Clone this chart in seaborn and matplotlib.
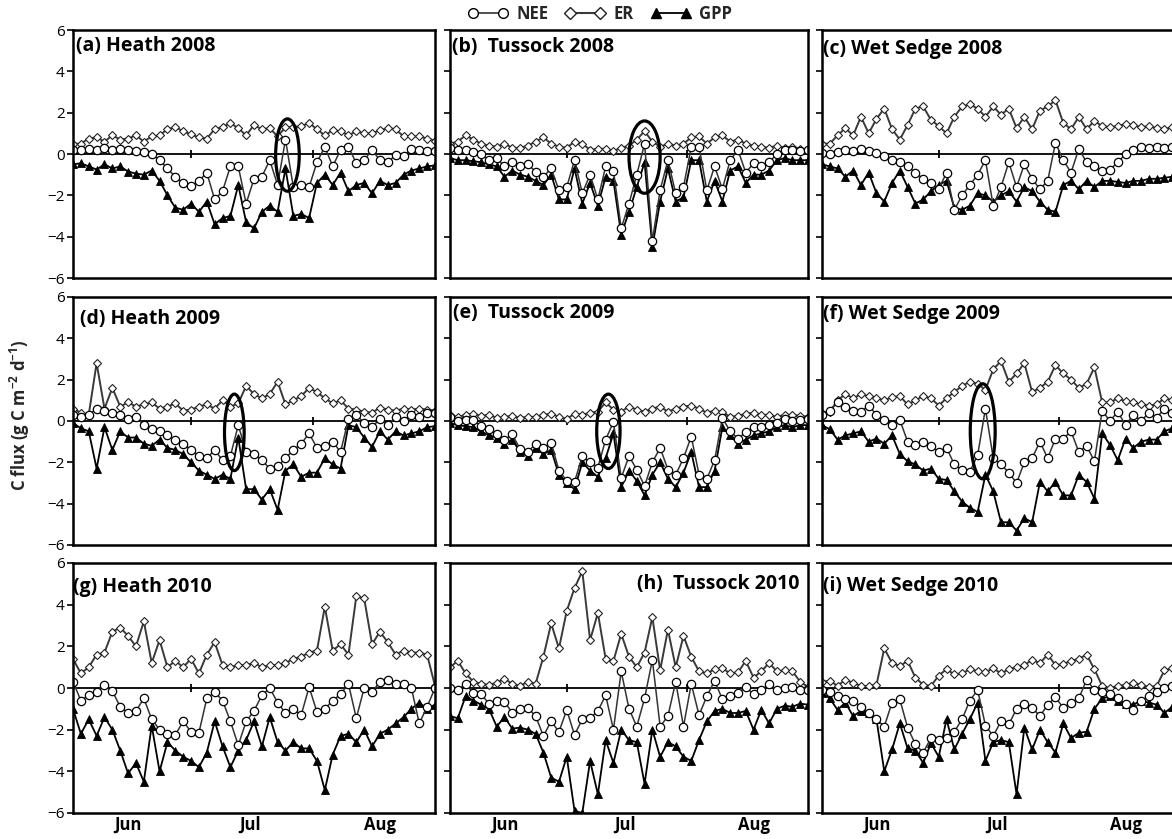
import seaborn as sns
import matplotlib.pyplot as plt
from matplotlib.lines import Line2D
from matplotlib.patches import Ellipse

# days counted from 1 June, one value every second day
days = list(range(0, 93, 2))
month_starts = [30, 61]
month_labels = ["Jun", "Jul", "Aug"]
month_label_pos = [14, 45, 78]

# (a) Heath 2008
nee_heath_2008 = [0.2, 0.2, 0.25, 0.2, 0.3, 0.2, 0.25, 0.2, 0.15, 0.1,
                  0.0, -0.3, -0.7, -1.1, -1.4, -1.55, -1.3, -0.9, -2.2, -1.8,
                  -0.6, -0.6, -2.4, -1.2, -1.1, -0.3, -1.5, 0.7, -1.6, -1.5,
                  -1.6, -0.4, 0.35, -0.6, 0.2, 0.35, -0.45, -0.3, 0.2, -0.3,
                  -0.4, -0.05, -0.1, 0.25, 0.2, 0.15, 0.15]
er_heath_2008 = [0.5, 0.5, 0.75, 0.8, 0.6, 0.9, 0.7, 0.75, 0.9, 0.6,
                 0.85, 0.9, 1.2, 1.3, 1.1, 0.95, 0.8, 0.75, 1.2, 1.3,
                 1.5, 1.25, 0.9, 1.4, 1.2, 1.25, 0.85, 1.3, 1.3, 1.35,
                 1.5, 1.2, 0.9, 1.15, 1.1, 0.9, 1.1, 1.0, 1.0, 1.15,
                 1.25, 1.2, 0.85, 0.85, 0.85, 0.75, 0.65]
gpp_heath_2008 = [-0.5, -0.45, -0.6, -0.75, -0.5, -0.7, -0.6, -0.85, -0.95, -1.0,
                  -0.8, -1.3, -2.0, -2.6, -2.7, -2.4, -2.8, -2.3, -3.4, -3.1,
                  -3.0, -1.5, -3.3, -3.6, -2.8, -2.5, -2.8, -0.7, -3.0, -2.9,
                  -3.1, -1.4, -1.0, -1.5, -0.9, -1.8, -1.5, -1.4, -1.9, -1.3,
                  -1.5, -1.4, -1.0, -0.8, -0.7, -0.6, -0.55]

# (b) Tussock 2008
nee_tussock_2008 = [0.3, 0.2, 0.2, 0.1, 0.0, -0.3, -0.2, -0.6, -0.4, -0.6,
                    -0.5, -0.85, -1.1, -0.7, -1.75, -1.6, -0.3, -1.9, -1.0, -2.2,
                    -0.6, -0.8, -3.6, -2.4, -1.0, 0.5, -4.2, -1.75, -0.3, -1.9,
                    -1.6, 0.35, 0.35, -1.75, -0.6, -1.7, -0.3, 0.2, -0.9, -0.45,
                    -0.6, -0.4, 0.0, 0.2, 0.2, 0.15, 0.2]
er_tussock_2008 = [0.5, 0.6, 0.9, 0.7, 0.5, 0.4, 0.35, 0.5, 0.3, 0.3,
                   0.4, 0.6, 0.8, 0.5, 0.35, 0.3, 0.6, 0.5, 0.2, 0.25,
                   0.25, 0.15, 0.3, 0.4, 0.7, 1.1, 0.6, 0.35, 0.5, 0.4,
                   0.5, 0.8, 0.85, 0.5, 0.8, 0.9, 0.6, 0.7, 0.5, 0.4,
                   0.35, 0.3, 0.4, 0.3, 0.35, 0.25, 0.2]
gpp_tussock_2008 = [-0.2, -0.3, -0.3, -0.35, -0.4, -0.5, -0.6, -1.1, -0.8, -1.0,
                    -1.1, -1.3, -1.5, -1.0, -2.2, -2.2, -0.7, -2.4, -1.4, -2.5,
                    -1.1, -1.3, -3.9, -2.8, -1.6, -0.4, -4.5, -2.3, -0.7, -2.3,
                    -2.1, -0.3, -0.3, -2.3, -1.3, -2.3, -0.8, -0.6, -1.4, -1.0,
                    -1.0, -0.8, -0.3, -0.2, -0.3, -0.3, -0.3]

# (c) Wet Sedge 2008
nee_wetsedge_2008 = [0.05, 0.0, 0.1, 0.2, 0.15, 0.25, 0.15, 0.05, -0.1, -0.3,
                     -0.4, -0.6, -0.9, -1.2, -1.4, -1.7, -0.9, -2.7, -2.0, -1.5,
                     -1.0, -0.3, -2.5, -1.6, -0.4, -1.6, -0.5, -1.2, -1.7, -1.3,
                     0.55, -0.3, -0.9, 0.25, -0.4, -0.6, -0.8, -0.75, -0.4, 0.0,
                     0.2, 0.35, 0.3, 0.35, 0.3, 0.35, 0.35]
er_wetsedge_2008 = [0.5, 0.5, 0.9, 1.25, 0.9, 1.8, 1.0, 1.7, 2.2, 1.2,
                    0.7, 1.4, 2.2, 2.3, 1.65, 1.35, 1.0, 1.8, 2.3, 2.4,
                    2.2, 1.8, 2.3, 1.9, 2.2, 1.25, 1.8, 1.2, 2.1, 2.3,
                    2.6, 1.5, 1.2, 1.8, 1.2, 1.6, 1.35, 1.3, 1.35, 1.45,
                    1.4, 1.3, 1.35, 1.25, 1.2, 1.3, 1.2]
gpp_wetsedge_2008 = [-0.5, -0.6, -0.7, -1.1, -0.8, -1.5, -0.9, -1.9, -2.3, -1.4,
                     -0.8, -1.6, -2.4, -2.2, -1.8, -1.5, -1.3, -2.6, -2.7, -2.5,
                     -1.9, -2.0, -2.3, -2.0, -1.8, -2.3, -1.6, -1.8, -2.3, -2.7,
                     -2.8, -1.5, -1.3, -1.7, -1.3, -1.6, -1.3, -1.3, -1.35, -1.4,
                     -1.3, -1.3, -1.2, -1.2, -1.15, -1.1, -1.1]

# (d) Heath 2009
nee_heath_2009 = [0.3, 0.2, 0.3, 0.6, 0.5, 0.4, 0.3, 0.1, 0.2, -0.2,
                  -0.4, -0.5, -0.7, -0.9, -1.1, -1.4, -1.7, -1.8, -1.4, -1.9,
                  -1.7, -0.2, -1.5, -1.6, -1.9, -2.3, -2.2, -1.8, -1.4, -1.1,
                  -0.6, -1.3, -1.2, -1.0, -1.5, 0.1, 0.3, -0.1, -0.3, 0.1,
                  -0.2, 0.2, 0.0, 0.3, 0.2, 0.4, 0.4]
er_heath_2009 = [0.6, 0.4, 0.3, 2.8, 0.6, 1.6, 0.7, 0.9, 0.7, 0.8,
                 0.9, 0.6, 0.7, 0.85, 0.5, 0.55, 0.7, 0.8, 0.6, 1.0,
                 0.7, 0.85, 1.7, 1.3, 1.1, 1.3, 1.9, 0.8, 1.0, 1.2,
                 1.6, 1.4, 1.1, 0.85, 1.0, 0.6, 0.55, 0.45, 0.4, 0.65,
                 0.55, 0.5, 0.6, 0.55, 0.6, 0.55, 0.5]
gpp_heath_2009 = [-0.1, -0.35, -0.5, -2.3, -0.3, -1.4, -0.5, -0.8, -0.8, -1.1,
                  -1.2, -0.9, -1.3, -1.4, -1.6, -2.0, -2.4, -2.6, -2.8, -2.6,
                  -2.8, -0.8, -3.3, -3.3, -3.8, -3.3, -4.3, -2.4, -2.1, -2.7,
                  -2.5, -2.5, -1.8, -2.1, -2.3, -0.2, -0.3, -0.8, -1.25, -0.5,
                  -0.9, -0.5, -0.7, -0.6, -0.5, -0.3, -0.25]

# (e) Tussock 2009
nee_tussock_2009 = [0.2, 0.0, 0.05, 0.05, -0.25, -0.4, -0.65, -0.9, -0.65, -1.35,
                    -1.5, -1.1, -1.3, -1.05, -2.4, -2.9, -2.95, -1.7, -2.0, -2.25,
                    -0.9, -0.05, -2.75, -1.7, -2.35, -3.15, -2.0, -1.3, -2.35, -2.6,
                    -1.8, -0.75, -2.6, -2.8, -1.9, 0.15, -0.5, -0.85, -0.55, -0.3,
                    -0.3, -0.2, -0.1, 0.1, 0.0, 0.05, 0.1]
er_tussock_2009 = [0.3, 0.2, 0.3, 0.35, 0.25, 0.3, 0.15, 0.2, 0.25, 0.15,
                   0.2, 0.2, 0.3, 0.35, 0.2, 0.1, 0.35, 0.3, 0.4, 0.45,
                   0.9, 0.55, 0.45, 0.7, 0.55, 0.45, 0.6, 0.7, 0.45, 0.6,
                   0.7, 0.75, 0.6, 0.4, 0.5, 0.45, 0.2, 0.25, 0.35, 0.4,
                   0.3, 0.3, 0.2, 0.3, 0.3, 0.25, 0.2]
gpp_tussock_2009 = [-0.1, -0.2, -0.25, -0.3, -0.5, -0.7, -0.8, -1.1, -0.9, -1.5,
                    -1.7, -1.3, -1.6, -1.4, -2.6, -3.0, -3.3, -2.0, -2.4, -2.7,
                    -1.8, -0.6, -3.2, -2.4, -2.9, -3.6, -2.6, -2.0, -2.8, -3.2,
                    -2.5, -1.5, -3.2, -3.2, -2.4, -0.3, -0.7, -1.1, -0.9, -0.7,
                    -0.6, -0.5, -0.3, -0.2, -0.3, -0.2, -0.2]

# (f) Wet Sedge 2009
nee_wetsedge_2009 = [0.3, 0.5, 0.9, 0.7, 0.5, 0.45, 0.75, 0.3, 0.05, -0.2,
                     0.05, -1.0, -1.15, -1.0, -1.2, -1.5, -1.3, -2.1, -2.35, -2.45,
                     -1.65, 0.6, -1.8, -2.1, -2.5, -3.0, -2.0, -1.8, -1.0, -1.8,
                     -0.85, -0.85, -0.5, -1.5, -1.2, -1.95, 0.5, 0.0, 0.45, -0.2,
                     0.3, 0.0, 0.4, 0.15, 0.6, 0.4, 0.4]
er_wetsedge_2009 = [0.4, 0.45, 1.0, 1.3, 1.1, 1.3, 1.2, 1.1, 1.0, 1.15,
                    1.2, 0.8, 1.0, 1.2, 1.1, 0.75, 1.1, 1.4, 1.7, 1.9,
                    1.8, 1.5, 2.5, 2.9, 1.9, 2.3, 2.8, 1.4, 1.6, 1.9,
                    2.7, 2.3, 2.0, 1.6, 1.8, 2.6, 0.9, 0.9, 1.1, 0.95,
                    0.9, 0.8, 0.75, 0.8, 1.1, 1.0, 1.0]
gpp_wetsedge_2009 = [-0.2, -0.4, -0.9, -0.7, -0.6, -0.5, -1.0, -0.85, -1.1, -0.7,
                     -1.6, -1.95, -2.1, -2.4, -2.3, -2.8, -2.85, -3.4, -3.9, -4.2,
                     -4.4, -2.6, -3.4, -4.9, -4.9, -5.3, -4.7, -4.9, -2.95, -3.4,
                     -2.95, -3.6, -3.6, -2.6, -2.95, -3.75, -0.6, -1.15, -1.9, -0.85,
                     -1.3, -1.0, -0.9, -0.9, -0.5, -0.35, -0.4]

# (g) Heath 2010
nee_heath_2010 = [0.3, -0.6, -0.35, -0.2, 0.15, -0.15, -0.9, -1.2, -1.1, -0.5,
                  -1.5, -2.0, -2.2, -2.25, -1.6, -2.1, -2.15, -0.5, -0.2, -0.6,
                  -1.6, -2.75, -1.6, -1.1, -0.35, 0.0, -0.7, -1.2, -1.0, -1.3,
                  0.05, -1.15, -1.0, -0.6, -0.3, 0.2, -1.45, 0.0, -0.2, 0.3,
                  0.4, 0.2, 0.2, 0.0, -1.7, -0.9, 0.0]
er_heath_2010 = [1.4, 0.7, 1.0, 1.6, 1.7, 2.7, 2.9, 2.5, 2.0, 3.2,
                 1.2, 2.3, 1.0, 1.3, 1.0, 1.4, 0.7, 1.6, 2.2, 1.1,
                 1.0, 1.1, 1.1, 1.2, 1.0, 1.1, 1.1, 1.2, 1.4, 1.5,
                 1.7, 1.8, 3.9, 1.8, 2.1, 1.6, 4.4, 4.3, 2.1, 2.7,
                 2.2, 1.6, 1.8, 1.7, 1.7, 1.6, 0.1]
gpp_heath_2010 = [-1.0, -2.2, -1.5, -2.3, -1.4, -2.0, -3.0, -4.1, -3.6, -4.5,
                  -1.8, -4.0, -2.6, -3.0, -3.3, -3.5, -3.8, -3.1, -1.6, -2.8,
                  -3.8, -3.0, -2.5, -1.6, -2.8, -1.4, -2.6, -3.0, -2.6, -2.9,
                  -2.9, -3.5, -4.9, -3.2, -2.3, -2.2, -2.6, -2.0, -2.8, -2.2,
                  -2.0, -1.7, -1.4, -1.0, -0.7, -1.0, -0.8]

# (h) Tussock 2010
nee_tussock_2010 = [0.0, -0.1, 0.2, -0.25, -0.3, -0.75, -0.6, -0.65, -1.2, -1.0,
                    -0.95, -1.35, -2.3, -1.6, -2.1, -1.05, -2.25, -1.5, -1.45, -1.1,
                    -0.35, -2.0, 0.8, -1.0, -1.85, -0.5, 1.35, -1.85, -1.35, 0.3,
                    -1.85, 0.2, -1.3, -0.4, 0.35, -0.55, -0.4, -0.25, 0.05, -0.3,
                    -0.1, 0.2, -0.1, 0.0, 0.05, -0.1, -0.1]
er_tussock_2010 = [1.0, 1.3, 0.7, 0.3, 0.2, 0.15, 0.25, 0.45, 0.2, 0.1,
                   0.3, 0.2, 1.5, 3.1, 1.9, 3.7, 4.8, 5.6, 2.3, 3.6,
                   1.4, 1.3, 2.6, 1.5, 1.0, 1.7, 3.4, 0.85, 2.8, 1.0,
                   2.5, 1.5, 0.8, 0.7, 0.9, 0.95, 0.7, 0.75, 1.3, 0.5,
                   0.8, 1.2, 0.8, 0.85, 0.8, 0.3, 0.05]
gpp_tussock_2010 = [-1.35, -1.45, -0.4, -0.6, -0.8, -1.0, -1.85, -1.4, -1.95, -1.9,
                    -2.0, -2.2, -3.1, -4.3, -4.5, -3.3, -5.9, -6.0, -3.5, -5.1,
                    -2.5, -3.6, -2.0, -2.5, -2.6, -4.6, -2.0, -3.3, -2.6, -2.8,
                    -3.3, -3.5, -2.5, -1.6, -1.1, -1.0, -1.2, -1.2, -1.1, -2.0,
                    -1.05, -1.7, -1.0, -0.85, -0.9, -0.75, -0.8]

# (i) Wet Sedge 2010
nee_wetsedge_2010 = [-0.1, -0.2, -0.4, -0.55, -0.6, -0.9, -1.2, -1.5, -1.85, -0.7,
                     -0.55, -1.9, -2.7, -3.1, -2.4, -2.5, -2.4, -2.1, -1.5, -0.6,
                     -0.1, -1.8, -2.3, -1.6, -1.75, -1.0, -0.75, -0.95, -1.35, -0.8,
                     -0.45, -0.95, -0.7, -0.5, 0.4, -0.1, -0.2, -0.3, -0.5, -0.75,
                     -1.05, -0.6, -0.4, -0.2, 0.0, 0.1, 0.1]
er_wetsedge_2010 = [0.3, 0.35, 0.1, 0.4, 0.25, 0.1, 0.1, 0.15, 1.9, 1.2,
                    1.05, 1.3, 0.5, 0.15, 0.1, 0.6, 0.9, 0.65, 0.7, 0.9,
                    0.8, 0.75, 0.95, 0.7, 0.9, 1.0, 1.1, 1.35, 1.2, 1.6,
                    1.1, 1.15, 1.3, 1.4, 1.6, 0.9, 0.1, 0.0, 0.1, 0.15,
                    0.25, 0.15, 0.05, 0.1, 0.85, 0.95, 1.0]
gpp_wetsedge_2010 = [-0.25, -0.5, -1.05, -0.7, -1.35, -1.1, -1.2, -1.5, -4.0, -2.95,
                     -1.7, -2.9, -3.0, -3.6, -2.65, -3.3, -1.5, -2.95, -2.2, -1.5,
                     -0.7, -3.5, -2.6, -2.5, -2.6, -5.1, -1.9, -2.95, -2.0, -2.6,
                     -3.1, -1.7, -2.4, -2.15, -2.1, -1.0, -0.5, -0.4, -0.6, -0.75,
                     -0.8, -0.6, -0.7, -0.8, -1.2, -0.9, -0.8]

panels = [
    ("(a) Heath 2008", nee_heath_2008, er_heath_2008, gpp_heath_2008),
    ("(b)  Tussock 2008", nee_tussock_2008, er_tussock_2008, gpp_tussock_2008),
    ("(c) Wet Sedge 2008", nee_wetsedge_2008, er_wetsedge_2008, gpp_wetsedge_2008),
    ("(d) Heath 2009", nee_heath_2009, er_heath_2009, gpp_heath_2009),
    ("(e)  Tussock 2009", nee_tussock_2009, er_tussock_2009, gpp_tussock_2009),
    ("(f) Wet Sedge 2009", nee_wetsedge_2009, er_wetsedge_2009, gpp_wetsedge_2009),
    ("(g) Heath 2010", nee_heath_2010, er_heath_2010, gpp_heath_2010),
    ("(h)  Tussock 2010", nee_tussock_2010, er_tussock_2010, gpp_tussock_2010),
    ("(i) Wet Sedge 2010", nee_wetsedge_2010, er_wetsedge_2010, gpp_wetsedge_2010),
]

# circled days: panel index -> (day, flux, width in days, height in flux)
circled = {
    0: (54.5, -0.05, 6.0, 3.5),
    1: (50.0, -0.15, 8.0, 3.5),
    3: (41.0, -0.55, 5.0, 3.7),
    4: (40.7, -0.5, 6.0, 3.6),
    5: (41.3, -0.5, 6.4, 4.6),
}

# title placement in axes fraction (x, y, ha)
title_pos = [
    (0.008, 0.975, "left"), (0.005, 0.97, "left"), (0.004, 0.965, "left"),
    (0.02, 0.95, "left"), (0.008, 0.975, "left"), (0.004, 0.97, "left"),
    (0.0, 0.945, "left"), (0.975, 0.955, "right"), (0.004, 0.95, "left"),
]

sns.set_theme(style="white")
plt.rcParams["font.family"] = ["Open Sans", "DejaVu Sans"]
plt.rcParams["mathtext.fontset"] = "custom"
plt.rcParams["mathtext.rm"] = "Open Sans"
plt.rcParams["mathtext.bf"] = "Open Sans:bold"

W, H = 1172, 839
fig = plt.figure(figsize=(W / 100, H / 100), dpi=100)

col_left = [73, 450, 822]
col_width = [362, 358, 358]
row_top = [30, 297, 563]
row_height = [248, 248, 250]

for i, (title, nee, er, gpp) in enumerate(panels):
    r, c = divmod(i, 3)
    ax = fig.add_axes([col_left[c] / W, 1 - (row_top[r] + row_height[r]) / H,
                       col_width[c] / W, row_height[r] / H])

    ax.axhline(0, color="black", lw=1.3, zorder=1)
    ax.vlines(month_starts, -0.18, 0.18, color="black", lw=1.3, zorder=1)

    sns.lineplot(x=days[:len(gpp)], y=gpp, ax=ax, color="black", lw=1.3,
                 marker="^", markersize=5.5, mfc="black", mec="black", mew=0.6)
    sns.lineplot(x=days[:len(er)], y=er, ax=ax, color="#3a3a3a", lw=1.4,
                 marker="D", markersize=4.2, mfc="white", mec="#222222", mew=0.8)
    sns.lineplot(x=days[:len(nee)], y=nee, ax=ax, color="#333333", lw=1.1,
                 marker="o", markersize=6, mfc="white", mec="black", mew=0.9)

    if i in circled:
        x0, y0, w, h = circled[i]
        ax.add_patch(Ellipse((x0, y0), w, h, fill=False, ec="black", lw=2.3, zorder=6))

    ax.set_xlim(0, 92)
    ax.set_ylim(-6, 6)
    ax.set_yticks(range(-6, 7, 2))
    ax.set_xlabel("")
    ax.set_ylabel("")
    if r == 2:
        ax.set_xticks(month_label_pos, month_labels, fontweight="bold", fontsize=12)
    else:
        ax.set_xticks(month_label_pos, [])
    ax.tick_params(axis="x", length=0, pad=2, colors="black")
    ax.tick_params(axis="y", direction="out", length=4, width=1.2, left=True,
                   labelleft=(c == 0), labelsize=11, pad=2, colors="black")
    for s in ax.spines.values():
        s.set_color("black")
        s.set_linewidth(1.8)

    tx, ty, ha = title_pos[i]
    ax.text(tx, ty, title, transform=ax.transAxes, ha=ha, va="top",
            fontsize=14, fontweight="bold", color="black")

fig.text(0.017, 0.505, r"C flux (g C m$^{\mathbf{-2}}$ d$^{\mathbf{-1}}$)", rotation=90,
         ha="center", va="center", fontsize=12, fontweight="bold")

handles = [
    Line2D([0], [0], color="#333333", lw=1.2, marker="o", ms=7, mfc="white", mec="black"),
    Line2D([0], [0], color="#3a3a3a", lw=1.5, marker="D", ms=6.5, mfc="white", mec="#222222"),
    Line2D([0], [0], color="black", lw=1.3, marker="^", ms=7, mfc="black", mec="black"),
]
fig.legend(handles, ["NEE", "ER", "GPP"], loc="center", bbox_to_anchor=(0.512, 0.983),
           ncol=3, frameon=False, numpoints=2, handlelength=2.4, handletextpad=0.5,
           columnspacing=1.0, prop={"weight": "bold", "size": 12})

plt.savefig("out.png", dpi=100)
plt.close()
